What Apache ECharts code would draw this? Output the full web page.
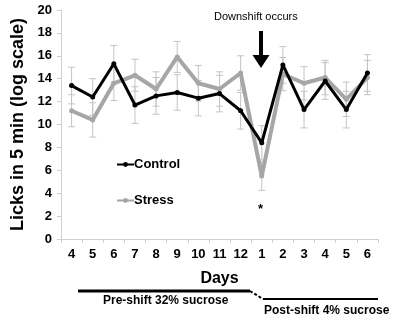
<!DOCTYPE html>
<html>
<head>
<meta charset="utf-8">
<script src="https://cdn.jsdelivr.net/npm/echarts@6/dist/echarts.min.js"></script>
<style>
  html, body { margin: 0; padding: 0; background: #fff; }
  #chart { width: 397px; height: 321px; }
</style>
</head>
<body>
<div id="chart"></div>
<script>
// days: pre-shift 4..12, then post-shift 1..6
var days = ['4', '5', '6', '7', '8', '9', '10', '11', '12', '1', '2', '3', '4', '5', '6'];
var controlMean = [13.4, 12.4, 15.3, 11.7, 12.5, 12.8, 12.3, 12.7, 11.2, 8.4, 15.2, 11.3, 13.8, 11.3, 14.5];
var controlErr  = [1.6, 1.6, 1.6, 1.6, 1.6, 1.55, 1.55, 1.6, 1.6, 1.5, 1.6, 1.6, 1.6, 1.6, 1.6];
var stressMean  = [11.2, 10.4, 13.6, 14.3, 13.1, 15.9, 13.6, 13.1, 14.5, 5.5, 14.4, 13.6, 14.1, 12.2, 14.1];
var stressErr   = [1.4, 1.5, 1.5, 1.4, 1.5, 1.35, 1.55, 1.5, 1.5, 1.25, 1.45, 1.45, 1.5, 1.5, 1.5];
var yTicks = [0, 2, 4, 6, 8, 10, 12, 14, 16, 18, 20];

var FONT = 'Liberation Sans';

function errorData(means, errs) {
  return means.map(function (m, i) { return [i, m - errs[i], m + errs[i]]; });
}

function renderErr(params, api) {
  var lo = api.coord([api.value(0), api.value(1)]);
  var hi = api.coord([api.value(0), api.value(2)]);
  var w = 3.5;
  var st = { stroke: '#c4c4c4', lineWidth: 1 };
  return {
    type: 'group',
    children: [
      { type: 'line', shape: { x1: lo[0], y1: lo[1], x2: hi[0], y2: hi[1] }, style: st },
      { type: 'line', shape: { x1: lo[0] - w, y1: lo[1], x2: lo[0] + w, y2: lo[1] }, style: st },
      { type: 'line', shape: { x1: hi[0] - w, y1: hi[1], x2: hi[0] + w, y2: hi[1] }, style: st }
    ]
  };
}

var chart = echarts.init(document.getElementById('chart'), null, { renderer: 'canvas' });

var option = {
  animation: false,
  textStyle: { fontFamily: FONT },
  grid: { left: 61, right: 19, top: 10, bottom: 82 },
  legend: {
    orient: 'vertical',
    left: 111,
    top: 153,
    itemWidth: 17,
    itemHeight: 6,
    itemGap: 23,
    data: ['Control', 'Stress'],
    textStyle: { fontFamily: FONT, fontWeight: 'bold', fontSize: 13, color: '#000', padding: [0, 0, 0, -5] }
  },
  xAxis: {
    type: 'category',
    data: days,
    name: 'Days',
    nameLocation: 'middle',
    nameGap: 32,
    nameTextStyle: { fontFamily: FONT, fontWeight: 'bold', fontSize: 16, color: '#000' },
    axisLine: { lineStyle: { color: '#d0d0d0', width: 1 } },
    axisTick: { show: true, length: 4, lineStyle: { color: '#d0d0d0' } },
    axisLabel: { fontFamily: FONT, fontWeight: 'bold', fontSize: 13, color: '#000', margin: 9, interval: 0 },
    splitLine: { show: false }
  },
  yAxis: {
    type: 'value',
    min: 0,
    max: 20,
    interval: 2,
    name: 'Licks in 5 min (log scale)',
    nameLocation: 'middle',
    nameGap: 33,
    nameTextStyle: { fontFamily: FONT, fontWeight: 'bold', fontSize: 18, color: '#000' },
    axisLine: { show: true, lineStyle: { color: '#d0d0d0', width: 1 } },
    axisTick: { show: true, length: 4, lineStyle: { color: '#d0d0d0' } },
    axisLabel: { fontFamily: FONT, fontWeight: 'bold', fontSize: 13, color: '#000', margin: 9,
      formatter: function (v) { return yTicks.indexOf(v) >= 0 ? String(v) : ''; } },
    splitLine: { show: false }
  },
  series: [
    {
      name: 'Control err', type: 'custom', renderItem: renderErr,
      encode: { x: 0, y: [1, 2] }, data: errorData(controlMean, controlErr), z: 1, silent: true
    },
    {
      name: 'Stress err', type: 'custom', renderItem: renderErr,
      encode: { x: 0, y: [1, 2] }, data: errorData(stressMean, stressErr), z: 1, silent: true
    },
    {
      name: 'Stress', type: 'line', data: stressMean, z: 3,
      symbol: 'circle', symbolSize: 5,
      lineStyle: { color: '#a6a6a6', width: 4 },
      itemStyle: { color: '#a6a6a6' }
    },
    {
      name: 'Control', type: 'line', data: controlMean, z: 4,
      symbol: 'circle', symbolSize: 5,
      lineStyle: { color: '#000', width: 3 },
      itemStyle: { color: '#000' }
    }
  ],
  graphic: [
    { type: 'text', left: 214, top: 11,
      style: { text: 'Downshift occurs', fontFamily: FONT, fontSize: 11, fill: '#000' } },
    { type: 'line', shape: { x1: 261, y1: 31, x2: 261, y2: 58 }, style: { stroke: '#000', lineWidth: 4 } },
    { type: 'polygon', shape: { points: [[252.5, 55], [269.5, 55], [261, 68]] }, style: { fill: '#000' } },
    { type: 'text', left: 258, top: 203,
      style: { text: '*', fontFamily: FONT, fontWeight: 'bold', fontSize: 13, fill: '#000' } },
    { type: 'line', shape: { x1: 78, y1: 291, x2: 250, y2: 291 }, style: { stroke: '#000', lineWidth: 3 } },
    { type: 'line', shape: { x1: 250, y1: 291, x2: 263, y2: 299 }, style: { stroke: '#000', lineWidth: 2, lineDash: [3, 2] } },
    { type: 'line', shape: { x1: 263, y1: 299, x2: 378, y2: 299 }, style: { stroke: '#000', lineWidth: 2 } },
    { type: 'text', left: 103, top: 295,
      style: { text: 'Pre-shift 32% sucrose', fontFamily: FONT, fontWeight: 'bold', fontSize: 12, fill: '#000' } },
    { type: 'text', left: 264, top: 305,
      style: { text: 'Post-shift 4% sucrose', fontFamily: FONT, fontWeight: 'bold', fontSize: 12, fill: '#000' } }
  ]
};

chart.setOption(option);
</script>
</body>
</html>
